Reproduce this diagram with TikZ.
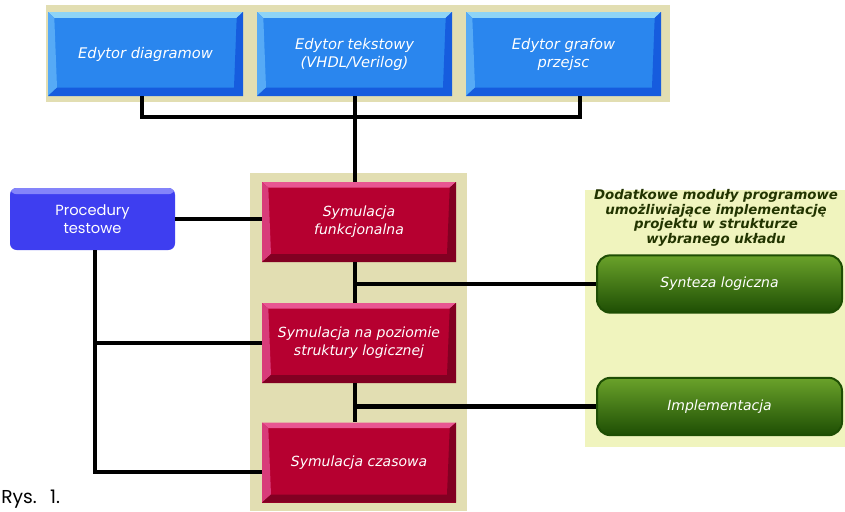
\documentclass[tikz,border=0pt]{standalone}
\usepackage{fontspec}
\setmainfont{DejaVu Sans}
\newfontfamily\geofont{Poppins}
\usetikzlibrary{calc}

\definecolor{panelbeige}{RGB}{226,222,178}
\definecolor{panelyellow}{RGB}{240,244,190}
\definecolor{bluemain}{RGB}{42,134,238}
\definecolor{bluetop}{RGB}{142,212,246}
\definecolor{blueleft}{RGB}{86,170,246}
\definecolor{bluedark}{RGB}{22,92,222}
\definecolor{redmain}{RGB}{182,0,48}
\definecolor{redtop}{RGB}{232,86,146}
\definecolor{redleft}{RGB}{216,60,122}
\definecolor{reddark}{RGB}{130,0,34}
\definecolor{violetmain}{RGB}{62,62,240}
\definecolor{violettop}{RGB}{132,132,250}
\definecolor{greenmain}{RGB}{60,125,14}
\definecolor{greentop}{RGB}{106,162,42}
\definecolor{greendark}{RGB}{30,78,4}
\definecolor{titlegreen}{RGB}{34,52,0}

\tikzset{
  bevelbox/.style n args={4}{rectangle, fill=#1, text=white, inner sep=0pt, align=center,
    font=\fontsize{11}{13.5}\selectfont\itshape,
    path picture={
      % top edge
      \fill[#2] (path picture bounding box.north west) -- (path picture bounding box.north east)
        -- ($(path picture bounding box.north east)!.07!(path picture bounding box.-80)$)
        -- ($(path picture bounding box.north west)!.07!(path picture bounding box.-100)$) -- cycle;
      % left edge
      \fill[#3] (path picture bounding box.north west)
        -- ($(path picture bounding box.north west)!.07!(path picture bounding box.-100)$)
        -- ($(path picture bounding box.south west)!.1!(path picture bounding box.100)$)
        -- (path picture bounding box.south west) -- cycle;
      % bottom and right edge
      \fill[#4] (path picture bounding box.south west) -- (path picture bounding box.south east)
        -- (path picture bounding box.north east)
        -- ($(path picture bounding box.north east)!.07!(path picture bounding box.-80)$)
        -- ($(path picture bounding box.south east)!.1!(path picture bounding box.80)$)
        -- ($(path picture bounding box.south west)!.1!(path picture bounding box.100)$) -- cycle;
    }},
  editorbox/.style={bevelbox={bluemain}{bluetop}{blueleft}{bluedark},
    minimum width=146.25pt, minimum height=63pt},
  simbox/.style={bevelbox={redmain}{redtop}{redleft}{reddark},
    minimum width=145.5pt, minimum height=60pt, font=\fontsize{10.5}{13.5}\selectfont\itshape},
  testbox/.style={rectangle, rounded corners=5pt, fill=violetmain, text=white, align=center,
    minimum width=123.75pt, minimum height=46.5pt, inner sep=0pt,
    font=\geofont\fontsize{11}{14}\selectfont,
    path picture={
      \fill[violettop] (path picture bounding box.north west)
        rectangle ($(path picture bounding box.north east)!.1!(path picture bounding box.south east)$);
    }},
  modbox/.style={rectangle, rounded corners=10pt, draw=greendark, line width=1.5pt,
    top color=greentop, middle color=greenmain, bottom color=greendark,
    text=white, minimum width=183.75pt, minimum height=43pt, inner sep=0pt,
    font=\fontsize{10.5}{13}\selectfont\itshape},
  link/.style={line width=3.2pt, black},
}

\begin{document}
\begin{tikzpicture}[x=0.75pt,y=0.75pt,yscale=-1,xscale=1]
\useasboundingbox (0,0) rectangle (845,511);

%Shape: Rectangle [panels]
\fill[panelbeige] (46,5) rectangle (670,102);
\fill[panelbeige] (250,173) rectangle (467,511);
\fill[panelyellow] (585,190) rectangle (845,447);

% Editors
\draw (145.5,54) node [editorbox] (dia) {Edytor diagramow};
\draw (354.5,54) node [editorbox] (tek) {Edytor tekstowy\\(VHDL/Verilog)};
\draw (563.5,54) node [editorbox] (gra) {Edytor grafow\\przejsc};

% Simulation
\draw (359,222) node [simbox] (fun) {Symulacja\\funkcjonalna};
\draw (359,343) node [simbox] (str) {Symulacja na poziomie\\struktury logicznej};
\draw (359,462.5) node [simbox] (cza) {Symulacja czasowa};

\draw (92.5,219) node [testbox] (pro) {Procedury\\testowe};

% Extra modules
\draw (716,218) node [align=center, inner sep=0pt, text=titlegreen,
  font=\fontsize{10}{11}\selectfont\bfseries\itshape] (title)
  {Dodatkowe moduły programowe\\umożliwiające implementację\\projektu w strukturze\\wybranego układu};
\draw (719.5,284) node [modbox] (syn) {Synteza logiczna};
\draw (719.5,406.5) node [modbox] (imp) {Implementacja};

% Text Node
\draw (1,499) node [anchor=west, inner sep=0pt, font=\geofont\fontsize{14}{16}\selectfont] (rys) {Rys.\hspace{10pt}1.};

% connectors
\coordinate (busL) at (142,117);
\coordinate (busR) at (580,117);
\coordinate (tbus) at (95,472);
\coordinate (spine) at (355,0);

\draw[link] (dia.south -| busL) -- (busL) -- (busR) -- (gra.south -| busR);
\draw[link] (tek.south -| spine) -- (fun.north -| spine);
\draw[link] (pro.east) -- (pro.east -| fun.west);
\draw[link] (pro.south -| tbus) -- (tbus) -- (tbus -| cza.west);
\draw[link] (tbus |- str.west) -- (str.west);
\draw[link] (fun.south -| spine) -- (str.north -| spine);
\draw[link] (str.south -| spine) -- (cza.north -| spine);
\draw[link] (spine |- syn.west) -- (syn.west);
\draw[link] (spine |- imp.west) -- (imp.west);

\end{tikzpicture}
\end{document}
